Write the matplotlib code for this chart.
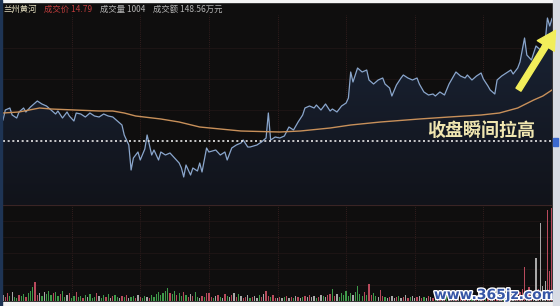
import matplotlib
matplotlib.use('Agg')
import numpy as np
import matplotlib.pyplot as plt
import matplotlib.patheffects as pe
from matplotlib.patches import FancyArrowPatch, Rectangle
from matplotlib.colors import LinearSegmentedColormap

plt.rcParams['font.family'] = ['Noto Sans CJK SC', 'DejaVu Sans']

# stock info
name = '兰州黄河'
last_price = 14.79
last_vol = 1004
turnover = '148.56万元'
prev_close = 14.30

# minute price line (minute index, price)
minutes = [0, 1, 3, 4, 6, 7, 9, 10, 12, 14, 15, 17, 19, 21, 23, 24, 26, 28, 29, 31,
           32, 34, 36, 38, 40, 42, 44, 46, 48, 50, 52, 53, 55, 56, 57, 59, 60, 62, 63, 65,
           66, 68, 69, 71, 73, 75, 77, 78, 79, 80, 82, 83, 85, 86, 87, 89, 90, 93, 95, 97,
           98, 100, 102, 104, 105, 107, 108, 111, 113, 115, 116, 117, 119, 121, 123, 125, 127, 129, 131, 132,
           134, 136, 137, 139, 141, 143, 144, 146, 148, 150, 151, 152, 153, 154, 155, 157, 159, 160, 162, 164,
           166, 167, 169, 170, 172, 174, 175, 177, 179, 181, 182, 184, 186, 188, 189, 191, 193, 195, 196, 198,
           200, 202, 203, 205, 207, 209, 210, 212, 213, 215, 216, 218, 220, 222, 223, 225, 226, 228, 229, 231,
           232, 233, 235, 236, 237, 238, 239, 240]
prices = [14.384, 14.424, 14.432, 14.404, 14.392, 14.416, 14.432, 14.416, 14.436, 14.452,
          14.460, 14.448, 14.440, 14.424, 14.408, 14.420, 14.392, 14.416, 14.400, 14.380,
          14.412, 14.408, 14.396, 14.412, 14.400, 14.396, 14.408, 14.400, 14.396, 14.380,
          14.364, 14.324, 14.284, 14.184, 14.232, 14.256, 14.224, 14.268, 14.324, 14.244,
          14.264, 14.224, 14.256, 14.244, 14.252, 14.232, 14.212, 14.192, 14.156, 14.204,
          14.164, 14.192, 14.180, 14.212, 14.176, 14.272, 14.256, 14.264, 14.244, 14.256,
          14.224, 14.272, 14.284, 14.292, 14.304, 14.276, 14.276, 14.284, 14.296, 14.312,
          14.412, 14.304, 14.316, 14.312, 14.320, 14.356, 14.344, 14.376, 14.404, 14.432,
          14.440, 14.432, 14.444, 14.424, 14.448, 14.420, 14.428, 14.416, 14.440, 14.452,
          14.472, 14.576, 14.536, 14.564, 14.592, 14.576, 14.584, 14.544, 14.528, 14.544,
          14.552, 14.528, 14.512, 14.480, 14.524, 14.552, 14.564, 14.552, 14.544, 14.552,
          14.528, 14.496, 14.484, 14.488, 14.480, 14.496, 14.484, 14.528, 14.544, 14.576,
          14.560, 14.552, 14.564, 14.544, 14.560, 14.572, 14.548, 14.520, 14.504, 14.488,
          14.544, 14.560, 14.572, 14.584, 14.568, 14.592, 14.616, 14.712, 14.644, 14.624,
          14.652, 14.680, 14.664, 14.688, 14.696, 14.792, 14.760, 14.790]

# average price line
avg_minutes = [0, 7, 16, 21, 42, 48, 53, 58, 69, 77, 86, 95, 104, 121, 130, 143, 152, 165,
               182, 195, 209, 217, 225, 232, 236, 240]
avg_prices = [14.412, 14.416, 14.432, 14.428, 14.420, 14.420, 14.412, 14.400, 14.388, 14.376,
              14.356, 14.348, 14.340, 14.336, 14.340, 14.352, 14.364, 14.376, 14.388, 14.396,
              14.404, 14.412, 14.432, 14.464, 14.480, 14.504]

# volume per minute (hands), 20 per row
volumes = [
    66, 44, 88, 55, 99, 44, 33, 66, 55, 77, 44, 88, 110, 154, 209, 66, 88, 55, 99, 77,
    110, 66, 88, 99, 55, 77, 110, 44, 66, 88, 33, 55, 99, 44, 55, 33, 66, 44, 77, 33,
    44, 88, 55, 33, 66, 44, 77, 33, 55, 66, 44, 33, 55, 44, 66, 33, 44, 55, 33, 66,
    44, 33, 55, 44, 33, 66, 44, 77, 99, 66, 88, 110, 143, 88, 77, 110, 66, 88, 55, 99,
    66, 44, 77, 55, 99, 44, 33, 55, 44, 88, 88, 44, 33, 55, 66, 44, 33, 77, 55, 44,
    66, 88, 44, 77, 55, 33, 44, 66, 33, 44, 55, 33, 66, 44, 77, 110, 55, 44, 66, 33,
    33, 44, 33, 44, 55, 33, 44, 33, 55, 44, 33, 44, 55, 44, 66, 44, 55, 33, 44, 66,
    55, 44, 66, 77, 132, 55, 77, 44, 88, 66, 110, 55, 88, 66, 99, 165, 77, 55, 99, 66,
    187, 66, 88, 55, 44, 121, 55, 44, 33, 44, 55, 33, 44, 55, 33, 44, 66, 33, 44, 55,
    33, 44, 55, 33, 44, 33, 55, 44, 33, 44, 55, 33, 66, 44, 55, 33, 44, 55, 33, 44,
    44, 55, 33, 66, 44, 55, 33, 44, 66, 55, 44, 33, 55, 66, 44, 77, 55, 44, 66, 55,
    66, 55, 77, 88, 66, 110, 99, 132, 363, 88, 154, 110, 99, 462, 132, 847, 165, 220, 990, 330,
    1004]
# u = up tick, d = down tick, n = unchanged
direction = ('nuudnddudduddduundnd'
             'ddudduddnudduddudndd'
             'dunddudnuddnudunddun'
             'uddnuddddddddudduddu'
             'dunuddnuduuudnudnudn'
             'unudnuundunndunuuduu'
             'nundunudnundununndun'
             'dnuudunddddddnddddud'
             'uuddnuudnunnudnunudn'
             'nunudnunudnunudnunun'
             'ununudnunuuduunuuuud'
             'ununuuuuunuunnunnnuu'
             'u')

W, H = 560, 306
bg = '#0f0e0e'
fig = plt.figure(figsize=(W / 100, H / 100), dpi=100, facecolor=bg)

def fx(px):
    return px / W

def fy(py):
    return 1 - py / H

ax = fig.add_axes([fx(3), fy(205), fx(549), (205 - 15) / H])
axv = fig.add_axes([fx(3), fy(301), fx(549), (301 - 205) / H])

for a in (ax, axv):
    a.set_facecolor(bg)
    a.set_xlim(0, 240)
    for s in a.spines.values():
        s.set_visible(False)
    a.set_xticks([])
    a.set_yticks([])
    for m in range(30, 240, 30):
        a.axvline(m, color='#3d2222', lw=0.6, ls=(0, (1, 1.5)), zorder=0)

ylo = prev_close - 64 * 0.004
yhi = prev_close + 126 * 0.004
ax.set_ylim(ylo, yhi)
for p in [14.672, 14.548, 14.424, 14.176]:
    ax.axhline(p, color='#221717', lw=0.5, zorder=0)

# gradient fill under the price line
poly = ax.fill_between(minutes, prices, ylo, color='none', zorder=1)
grad_cmap = LinearSegmentedColormap.from_list('g', ['#11131a', '#1a2436'])
grad = np.linspace(0, 1, 256).reshape(-1, 1)
img = ax.imshow(grad, cmap=grad_cmap, aspect='auto', origin='lower',
                extent=[0, 240, ylo, max(prices)], zorder=1)
img.set_clip_path(poly.get_paths()[0], transform=ax.transData)
ax.set_ylim(ylo, yhi)
ax.set_xlim(0, 240)

ax.plot(minutes, prices, color='#8aa6cc', lw=0.9, zorder=3)
ax.plot(avg_minutes, avg_prices, color='#c8905a', lw=1.0, zorder=4)
ax.axhline(prev_close, color='#e8e8e8', lw=1.2, ls=(0, (1.2, 1.6)), zorder=5)

# volume panel
vmax = 1040
axv.set_ylim(0, vmax)
for k in range(1, 6):
    axv.axhline(vmax * k / 6, color='#221717', lw=0.5, zorder=0)
axv.axhline(vmax, color='#3a2424', lw=0.8, zorder=0)
cmap = {'u': '#b84a5c', 'd': '#3f9a4a', 'n': '#a8a8a8'}
vx = list(range(len(volumes)))
vcol = [cmap[c] for c in direction[:len(volumes)]]
axv.bar(vx, volumes, width=0.55, color=vcol, zorder=2)

# header
hy = fy(9)
fig.text(fx(4), hy, name, color='#e6dfc0', fontsize=6, va='center')
fig.text(fx(44), hy, '成交价 %.2f' % last_price, color='#c03c3c', fontsize=6, va='center')
fig.text(fx(100), hy, '成交量 %d' % last_vol, color='#b4b4b4', fontsize=6, va='center')
fig.text(fx(153), hy, '成交额 ' + turnover, color='#b4b4b4', fontsize=6, va='center')

# annotation
fig.text(fx(481), fy(130), '收盘瞬间拉高', color='#f0e6b0', fontsize=13,
         fontweight='bold', ha='center', va='center')

# watermark
fig.text(fx(495), fy(295), 'www.365jz.com', color='#3656a6', fontsize=10,
         fontweight='bold', family='DejaVu Sans', ha='center', va='center',
         path_effects=[pe.withStroke(linewidth=2, foreground='white')])

# frame
fig.patches.append(Rectangle((0, fy(2)), 1, 2 / H, transform=fig.transFigure,
                             color='#f4f4f4', zorder=20))
fig.patches.append(Rectangle((0, 0), 1, 4 / H, transform=fig.transFigure,
                             color='#f4f4f4', zorder=20))
fig.patches.append(Rectangle((fx(553), 0), fx(7), 1, transform=fig.transFigure,
                             color='#d8dce4', zorder=20))
fig.patches.append(Rectangle((fx(553), fy(146)), fx(5), 8 / H, transform=fig.transFigure,
                             color='#3c6ad0', zorder=21))
fig.patches.append(Rectangle((0, 0), fx(1.5), 1, transform=fig.transFigure,
                             color='#1e3454', zorder=20))

arrow = FancyArrowPatch((fx(517), fy(92)), (fx(557), fy(28)), transform=fig.transFigure,
                        arrowstyle='simple,head_length=1.1,head_width=1.2,tail_width=0.35',
                        mutation_scale=12, color='#f2ee5a', zorder=30)
fig.patches.append(arrow)

fig.savefig('out.png', dpi=100, facecolor=bg)
